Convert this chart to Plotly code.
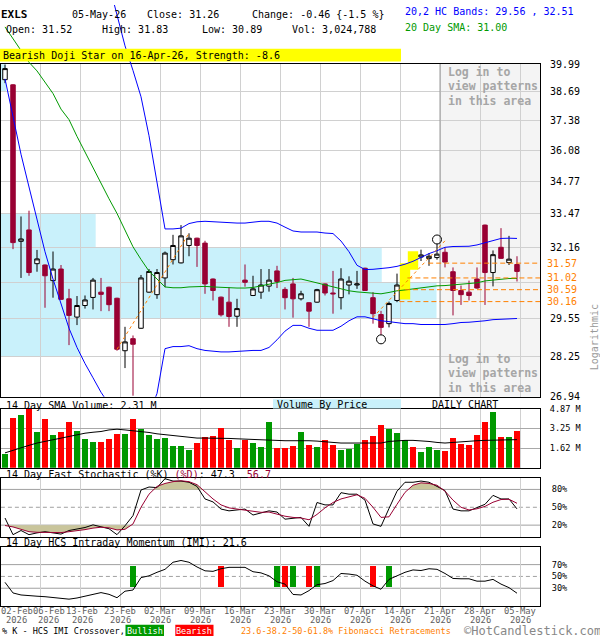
import math
import plotly.graph_objects as go

W, H = 600, 640
FONT = "DejaVu Sans Mono"

# ---------------- data ----------------
days = list(range(65))
label_days = [0, 4, 9, 14, 19, 24, 29, 34, 39, 44, 49, 54, 59, 64]
date_labels = ["02-Feb", "06-Feb", "13-Feb", "23-Feb", "02-Mar", "09-Mar", "16-Mar",
               "23-Mar", "30-Mar", "07-Apr", "14-Apr", "21-Apr", "28-Apr", "05-May"]
label_year = "2026"

open_px = [39.26, 39.02, 32.40, 32.84, 31.55, 31.50, 30.92, 31.35, 30.26, 29.61,
           30.02, 30.31, 30.50, 30.68, 30.28, 28.45, 28.86, 29.22, 30.50, 30.41,
           31.02, 31.70, 31.58, 32.24, 32.52, 32.33, 30.98, 30.32, 30.14, 29.64,
           30.94, 30.38, 30.50, 30.72, 31.28, 30.60, 30.80, 30.26, 30.12, 30.14,
           30.80, 30.47, 30.30, 30.76, 30.76, 31.38, 30.30, 29.70, 29.38, 30.20,
           30.62, 31.55, 31.80, 31.74, 31.78, 31.98, 31.25, 30.56, 30.50, 30.98,
           33.03, 31.22, 32.17, 31.59, 31.52]
high_px = [39.97, 39.05, 33.37, 33.60, 32.07, 31.52, 32.01, 31.50, 30.62, 30.36,
           30.38, 31.02, 31.02, 30.70, 30.30, 29.27, 28.97, 31.13, 31.35, 31.35,
           32.01, 32.65, 33.03, 32.71, 32.54, 32.42, 31.00, 30.34, 30.68, 30.26,
           31.52, 31.10, 31.35, 31.35, 31.47, 30.68, 31.02, 30.55, 30.14, 30.62,
           30.82, 31.28, 31.38, 31.08, 31.28, 31.40, 30.50, 29.83, 30.16, 31.18,
           31.42, 31.87, 32.08, 31.95, 32.30, 32.16, 31.41, 30.74, 30.92, 31.41,
           33.05, 32.05, 32.91, 32.61, 31.83]
low_px = [39.10, 32.10, 31.02, 31.10, 31.25, 29.94, 30.30, 30.22, 28.64, 29.33,
          29.91, 29.88, 29.82, 29.82, 28.45, 27.87, 26.97, 29.20, 30.48, 30.26,
          30.68, 31.52, 31.56, 31.83, 31.43, 30.44, 30.20, 29.63, 29.27, 29.27,
          30.70, 30.36, 30.26, 30.52, 30.65, 29.88, 29.59, 30.20, 29.27, 30.12,
          30.38, 29.73, 29.88, 30.42, 30.62, 30.55, 29.38, 28.99, 29.25, 30.14,
          30.34, 31.43, 31.65, 31.47, 31.70, 31.41, 29.67, 30.04, 30.20, 30.62,
          30.04, 30.71, 31.73, 31.50, 30.89]
close_px = [39.78, 32.35, 32.49, 31.22, 31.73, 31.10, 31.35, 30.24, 29.67, 30.02,
            30.22, 30.94, 30.42, 30.05, 28.50, 28.75, 28.67, 31.02, 31.26, 31.22,
            31.95, 32.24, 32.61, 32.52, 32.24, 30.80, 30.56, 29.69, 29.63, 29.91,
            30.86, 30.62, 30.76, 30.94, 30.89, 30.30, 30.26, 30.44, 29.82, 30.59,
            30.47, 30.44, 30.98, 30.90, 30.80, 30.56, 29.73, 29.25, 30.09, 30.76,
            31.31, 31.50, 31.88, 31.83, 31.91, 31.61, 30.56, 30.41, 30.38, 30.65,
            31.22, 31.89, 31.75, 31.72, 31.26]

sma20 = [41.80, 41.22, 40.64, 40.08, 39.67, 39.14, 38.62, 37.91, 37.44, 36.70,
         36.01, 35.40, 34.72, 34.08, 33.49, 32.84, 32.19, 31.71, 31.27, 30.98,
         30.69, 30.66, 30.66, 30.69, 30.71, 30.71, 30.69, 30.67, 30.66, 30.65,
         30.65, 30.67, 30.73, 30.78, 30.85, 30.93, 30.96, 30.98, 30.91, 30.84,
         30.76, 30.69, 30.62, 30.55, 30.51, 30.48, 30.46, 30.44, 30.49, 30.55,
         30.58, 30.62, 30.67, 30.71, 30.73, 30.74, 30.76, 30.78, 30.80, 30.84,
         30.91, 30.94, 30.98, 31.00, 31.00]
band_upper = [None] * 13 + [
    43.99, 42.42, 40.87, 39.69, 38.47, 36.73, 34.80,
    32.88, 32.88, 32.91, 33.09, 33.16, 33.18, 33.16, 33.14, 33.13, 33.11,
    33.11, 33.14, 33.18, 33.18, 33.11, 32.95, 32.80, 32.76, 32.76, 32.76,
    32.72, 32.70, 32.41, 32.00, 31.49, 31.33, 31.34, 31.36, 31.40, 31.45,
    31.53, 31.64, 31.78, 31.93, 32.04, 32.17, 32.20, 32.20, 32.21, 32.26,
    32.34, 32.41, 32.51, 32.52, 32.51]
band_lower = [39.30, 37.57, 35.93, 34.56, 33.22, 32.00, 30.98, 30.09, 29.22, 28.56,
              28.02, 27.55, 27.08, 26.70, 26.40, 26.20, 26.05, 26.05, 26.40, 27.04,
              28.52, 28.59, 28.59, 28.62, 28.52, 28.46, 28.43, 28.41, 28.41, 28.43,
              28.43, 28.46, 28.46, 28.56, 28.82, 29.12, 29.32, 29.32, 29.22, 29.15,
              29.15, 29.15, 29.29, 29.48, 29.62, 29.62, 29.55, 29.48, 29.45, 29.42,
              29.38, 29.38, 29.35, 29.35, 29.35, 29.35, 29.38, 29.42, 29.43, 29.45,
              29.48, 29.52, 29.53, 29.55, 29.56]

volume_m = [1.14, 4.06, 4.38, 4.82, 2.90, 3.98, 2.68, 2.98, 3.79, 3.06,
            2.35, 2.11, 2.11, 2.35, 2.76, 2.76, 3.98, 3.17, 2.68, 2.35,
            2.44, 1.79, 1.79, 1.46, 2.03, 2.52, 2.65, 3.25, 2.27, 1.62,
            2.30, 2.03, 1.70, 3.73, 1.62, 1.62, 1.79, 2.92, 1.87, 1.70,
            2.27, 1.87, 1.46, 1.54, 1.98, 2.27, 2.60, 3.49, 3.17, 2.84,
            2.25, 1.70, 1.30, 1.70, 1.46, 1.38, 2.44, 1.95, 1.87, 2.68,
            3.73, 4.63, 2.52, 2.52, 3.02]
volume_sma14 = [1.22, 1.43, 1.68, 1.84, 2.03, 2.16, 2.30, 2.41, 2.57, 2.73,
                2.84, 2.92, 2.98, 3.11, 3.17, 3.11, 3.06, 2.98, 2.90, 2.79,
                2.71, 2.62, 2.54, 2.46, 2.44, 2.44, 2.44, 2.46, 2.41, 2.38,
                2.35, 2.33, 2.27, 2.27, 2.25, 2.22, 2.22, 2.25, 2.22, 2.19,
                2.16, 2.08, 2.03, 2.03, 2.03, 2.00, 2.03, 2.03, 2.16, 2.22,
                2.25, 2.25, 2.22, 2.16, 2.08, 2.03, 2.08, 2.14, 2.19, 2.22,
                2.25, 2.27, 2.27, 2.27, 2.31]

stoch_k = [32, 4, 11, 4, 7, 9, 7, 5, 11, 14,
           16, 20.5, 17, 14, 4, 19, 36, 79, 84, 83,
           98, 94, 94, 92, 85, 64, 59, 47, 44, 46,
           47, 37, 41, 44, 42, 30, 31.5, 33, 18, 58,
           54, 54, 74.5, 72, 72, 62, 22, 18, 48, 77,
           92, 92, 94, 92, 85, 78, 47, 44, 44, 50,
           55, 70, 64, 64, 47.3]
stoch_d = [19.4, 17, 13, 9, 8, 8, 7.5, 7.5, 9, 10.5,
           12.5, 15, 16.5, 15.5, 12, 13, 22, 50, 72, 85,
           90, 93, 94.5, 93, 88, 76, 64, 54, 49, 47,
           45.5, 43, 41.5, 42, 38, 35, 33, 32, 29, 38,
           49, 58, 64, 68, 71, 65, 50, 33, 34, 55,
           75, 87, 91, 90, 87, 77, 62, 50, 45.5, 47.5,
           51.5, 58.5, 63, 63.5, 56.7]
imi = [40, 22, 18.6, 17, 16.5, 15.7, 14.5, 13, 11.5, 13.5,
       16.5, 20, 22.6, 19.7, 14, 25, 27, 48, 51, 57,
       62, 74, 77, 74, 66, 59.5, 58.6, 63, 65.4, 65.4,
       65.4, 58, 56, 51, 41, 37, 19.5, 18.6, 26, 36,
       38, 43, 55, 54, 52, 42, 34, 28.3, 45, 51,
       57, 61, 60, 63, 62, 55, 46.6, 46, 46, 42,
       42, 45, 37, 31, 21.6]
bull_cross_days = [16, 34, 36, 39, 48]
bear_cross_days = [27, 35, 38, 46]

price_ticks = [26.94, 28.25, 29.55, 30.86, 32.16, 33.47, 34.77, 36.08, 37.38, 38.69, 39.99]
price_tick_text = ["26.94", "28.25", "29.55", "", "32.16", "33.47", "34.77",
                   "36.08", "37.38", "38.69", "39.99"]
# volume traded inside each price band (between consecutive price ticks), millions
vbp_volume = [0, 9.2, 50.1, 43.8, 10.9, 0, 0, 0, 0, 0.6]

fib_levels = [31.57, 31.02, 30.59, 30.16]
fib_start_day = [52.9, 50.3, 50.0, 49.3]
swing_start_day = [14, 46]
swing_start_px = [28.50, 29.60]
swing_end_day = [23, 55]
swing_end_px = [32.71, 32.42]
pivot_low_days = [47]
pivot_high_days = [54]
pattern_days = [50, 51]
locked_from_day = 54

# ---------------- geometry helpers ----------------
def py(y_px):
    return 1 - y_px / H


def px(x_px):
    return x_px / W


X0, X1 = -0.5125, 66.875
XDOM = [0.0015, 0.9]
GRID_OFFSET = 0.375
grid_x = [d + GRID_OFFSET for d in label_days[1:]]
P_LO, P_HI = 26.935, 39.995
P_TOP = P_HI * math.exp(60 / 855)

CRIMSON = "#990033"
ORANGE = "#ff8000"
GREEN = "#009900"
RED = "#ff0000"
BLUE = "#0000ff"
VBP_BLUE = "#c9f1fb"
KHAKI = "#c9c59b"
GRID = "#d0d0d0"

fig = go.Figure()

# ---------------- main price panel ----------------
# pattern highlight boxes
for d in pattern_days:
    lo = low_px[d] / math.exp(3 / 855)
    hi = high_px[d] * math.exp(4 / 855)
    fig.add_trace(go.Scatter(x=[d - 0.65, d + 0.65, d + 0.65, d - 0.65, d - 0.65],
                             y=[lo, lo, hi, hi, lo], fill="toself", fillcolor="#ffff00",
                             line=dict(width=0), mode="lines", hoverinfo="skip",
                             xaxis="x", yaxis="y"))

# boundary of the locked pattern area
fig.add_trace(go.Scatter(x=[locked_from_day + GRID_OFFSET] * 2, y=[P_LO, P_HI], mode="lines",
                         line=dict(color="#999999", width=1), hoverinfo="skip",
                         xaxis="x", yaxis="y"))

for series, color in ((band_upper, BLUE), (band_lower, BLUE), (sma20, GREEN)):
    fig.add_trace(go.Scatter(x=days, y=series, mode="lines", line=dict(color=color, width=1),
                             hoverinfo="skip", xaxis="x", yaxis="y", connectgaps=False))
    # the same curves continue up into the header strip
    fig.add_trace(go.Scatter(x=days, y=series, mode="lines", line=dict(color=color, width=1),
                             hoverinfo="skip", xaxis="x6", yaxis="y6", connectgaps=False))

fig.add_trace(go.Candlestick(
    x=days, open=open_px, high=high_px, low=low_px, close=close_px,
    increasing=dict(line=dict(color="black", width=1), fillcolor="white"),
    decreasing=dict(line=dict(color=CRIMSON, width=1), fillcolor=CRIMSON),
    whiskerwidth=0, xaxis="x", yaxis="y", hoverinfo="skip"))

# fibonacci retracement levels
for lvl, start in zip(fib_levels, fib_start_day):
    fig.add_trace(go.Scatter(x=[start, X1], y=[lvl, lvl], mode="lines",
                             line=dict(color=ORANGE, width=1, dash="5px,3px"),
                             hoverinfo="skip", xaxis="x", yaxis="y"))
# swing lines
for d0, p0, d1, p1 in zip(swing_start_day, swing_start_px, swing_end_day, swing_end_px):
    fig.add_trace(go.Scatter(x=[d0, d1], y=[p0, p1], mode="lines",
                             line=dict(color=ORANGE, width=1, dash="dot"),
                             hoverinfo="skip", xaxis="x", yaxis="y"))
# pivot markers
piv_x = pivot_low_days + pivot_high_days
piv_y = [low_px[d] / math.exp(4.5 / 855) for d in pivot_low_days] + \
        [high_px[d] * math.exp(4.5 / 855) for d in pivot_high_days]
fig.add_trace(go.Scatter(x=piv_x, y=piv_y, mode="markers", cliponaxis=False,
                         marker=dict(symbol="circle-open", size=9, color="black",
                                     line=dict(width=1, color="black")),
                         hoverinfo="skip", xaxis="x", yaxis="y"))

# anchor trace for the volume-by-price axis
fig.add_trace(go.Scatter(x=[0], y=[30], mode="markers", marker=dict(size=0, opacity=0),
                         hoverinfo="skip", xaxis="x5", yaxis="y"))

# ---------------- volume panel ----------------
vol_colors = [GREEN if c >= o else RED for o, c in zip(open_px, close_px)]
fig.add_trace(go.Bar(x=days, y=volume_m, marker=dict(color=vol_colors, line=dict(width=0)),
                     width=0.72, xaxis="x2", yaxis="y2", hoverinfo="skip"))
fig.add_trace(go.Scatter(x=days, y=volume_sma14, mode="lines", line=dict(color="black", width=1),
                         xaxis="x2", yaxis="y2", hoverinfo="skip"))

# ---------------- stochastic panel ----------------
def clipped_fill(xs, ys, level, above):
    out_x, out_y = [], []
    for i in range(len(xs)):
        if i > 0:
            a, b = ys[i - 1], ys[i]
            if (a - level) * (b - level) < 0:
                t = (level - a) / (b - a)
                out_x.append(xs[i - 1] + t * (xs[i] - xs[i - 1]))
                out_y.append(level)
        out_x.append(xs[i])
        out_y.append(max(ys[i], level) if above else min(ys[i], level))
    return out_x, out_y


for level, above in ((80, True), (20, False)):
    fx, fy = clipped_fill(days, stoch_d, level, above)
    fig.add_trace(go.Scatter(x=fx, y=[level] * len(fx), mode="lines", line=dict(width=0),
                             hoverinfo="skip", xaxis="x3", yaxis="y3"))
    fig.add_trace(go.Scatter(x=fx, y=fy, mode="lines", line=dict(width=0), fill="tonexty",
                             fillcolor=KHAKI, hoverinfo="skip", xaxis="x3", yaxis="y3"))

fig.add_trace(go.Scatter(x=days, y=stoch_k, mode="lines", line=dict(color="black", width=1),
                         xaxis="x3", yaxis="y3", hoverinfo="skip"))
fig.add_trace(go.Scatter(x=days, y=stoch_d, mode="lines", line=dict(color=CRIMSON, width=1),
                         xaxis="x3", yaxis="y3", hoverinfo="skip"))

# ---------------- intraday momentum panel ----------------
fig.add_trace(go.Bar(x=bull_cross_days, y=[36] * len(bull_cross_days), base=32, width=0.74,
                     marker=dict(color=GREEN, line=dict(width=0)), xaxis="x4", yaxis="y4",
                     hoverinfo="skip"))
fig.add_trace(go.Bar(x=bear_cross_days, y=[36] * len(bear_cross_days), base=32, width=0.74,
                     marker=dict(color=RED, line=dict(width=0)), xaxis="x4", yaxis="y4",
                     hoverinfo="skip"))
fig.add_trace(go.Scatter(x=days, y=imi, mode="lines", line=dict(color="black", width=1),
                         xaxis="x4", yaxis="y4", hoverinfo="skip"))

# ---------------- axes ----------------
panel_x = dict(range=[X0, X1], domain=XDOM, tickvals=grid_x, showticklabels=False,
               showgrid=True, gridcolor=GRID, gridwidth=1, zeroline=False,
               showline=True, mirror=True, linecolor="black", linewidth=1, ticks="",
               fixedrange=True)
tick_font = dict(family=FONT, size=8.6, color="black")

layout_axes = dict(
    xaxis=dict(panel_x, anchor="y", rangeslider=dict(visible=False)),
    yaxis=dict(type="log", domain=[py(398), py(60)], range=[math.log10(P_LO), math.log10(P_HI)],
               side="right", tickvals=price_ticks, ticktext=price_tick_text,
               showgrid=True, gridcolor=GRID, zeroline=False, showline=True, mirror=True,
               linecolor="black", linewidth=1, ticks="", ticklabelstandoff=7,
               tickfont=dict(family=FONT, size=10, color="black"), anchor="x"),
    xaxis2=dict(panel_x, anchor="y2"),
    yaxis2=dict(domain=[py(470), py(410)], range=[0, 4.87], side="right",
                tickvals=[1.62, 3.25, 4.87], ticktext=["1.62 M", "3.25 M", "4.87 M"],
                showgrid=True, gridcolor="#a8a8a8", zeroline=False, showline=True, mirror=True,
                linecolor="black", ticks="", ticklabelstandoff=7, tickfont=tick_font,
                anchor="x2"),
    xaxis3=dict(panel_x, anchor="y3"),
    yaxis3=dict(domain=[py(540.5), py(480)], range=[0, 100], side="right",
                tickvals=[20, 50, 80], ticktext=["20%", "50%", "80%"], showgrid=False,
                zeroline=False, showline=True, mirror=True, linecolor="black", ticks="",
                ticklabelstandoff=9, tickfont=tick_font, anchor="x3"),
    xaxis4=dict(panel_x, anchor="y4"),
    yaxis4=dict(domain=[py(610.5), py(550.5)], range=[0, 100], side="right",
                tickvals=[30, 50, 70], ticktext=["30%", "50%", "70%"], showgrid=False,
                zeroline=False, showline=True, mirror=True, linecolor="black", ticks="",
                ticklabelstandoff=9, tickfont=tick_font, anchor="x4"),
    xaxis5=dict(range=[0, 62.0], overlaying="x", anchor="y", visible=False, fixedrange=True),
    xaxis6=dict(range=[X0, X1], domain=XDOM, anchor="y6", visible=False, fixedrange=True),
    yaxis6=dict(type="log", domain=[py(60), 1],
                range=[math.log10(P_HI), math.log10(P_TOP)], anchor="x6", visible=False),
)

# ---------------- shapes ----------------
shapes = []
for i, v in enumerate(vbp_volume):
    if v > 0:
        shapes.append(dict(type="rect", xref="x5", yref="y", x0=0, x1=v,
                           y0=price_ticks[i], y1=price_ticks[i + 1],
                           fillcolor=VBP_BLUE, line=dict(width=0), layer="below"))
shapes.append(dict(type="rect", xref="x", yref="y domain", x0=locked_from_day + GRID_OFFSET,
                   x1=X1, y0=0, y1=1, fillcolor="#f4f4f4", line=dict(width=0), layer="below"))
for pnl, levels in (("3", (20, 50, 80)), ("4", (30, 50, 70))):
    for lv in levels:
        shapes.append(dict(type="line", xref="x%s domain" % pnl, yref="y" + pnl,
                           x0=0, x1=1, y0=lv, y1=lv, layer="below",
                           line=dict(color="#a0a0a0", width=1,
                                     dash="4px,3px" if lv == 50 else "solid")))
# header highlight strip
shapes.append(dict(type="rect", xref="paper", yref="paper", x0=0, x1=px(401),
                   y0=py(57.5), y1=py(44.5), fillcolor="#ffff00", line=dict(width=0)))
# "Volume By Price" tag
shapes.append(dict(type="rect", xref="paper", yref="paper", x0=px(273), x1=px(401),
                   y0=py(410), y1=py(400.5), fillcolor=VBP_BLUE, line=dict(width=0)))
# legend chips
shapes.append(dict(type="rect", xref="paper", yref="paper", x0=px(125.5), x1=px(164),
                   y0=py(641), y1=py(629.5), fillcolor=GREEN, line=dict(width=0)))
shapes.append(dict(type="rect", xref="paper", yref="paper", x0=px(175.3), x1=px(213.5),
                   y0=py(641), y1=py(629.5), fillcolor=RED, line=dict(width=0)))

# ---------------- text ----------------
ann = []


def text(x_px, y_px, s, size=10, color="black", bold=False, anchor="left", **kw):
    if bold:
        s = "<b>%s</b>" % s
    ann.append(dict(x=px(x_px), y=py(y_px), xref="paper", yref="paper", text=s,
                    showarrow=False, xanchor=anchor, yanchor="middle",
                    font=dict(family=FONT, size=size, color=color), **kw))


text(-1, 9.5, "EXLS", size=11, bold=True)
text(70, 9.5, "05-May-26")
text(145, 9.5, "Close: %.2f" % close_px[-1])
text(250, 9.5, "Change: -0.46 {-1.5 %}")
text(403, 7, "20,2 HC Bands: %.2f , %.2f" % (band_lower[-1], band_upper[-1]), color=BLUE)
text(4, 24.5, "Open: %.2f" % open_px[-1])
text(100, 24.5, "High: %.2f" % high_px[-1])
text(200, 24.5, "Low: %.2f" % low_px[-1])
text(290, 24.5, "Vol: 3,024,788")
text(403, 23, "20 Day SMA: %.2f" % sma20[-1], color=GREEN)
text(1, 51.5, "Bearish Doji Star on 16-Apr-26, Strength: -8.6")

login_lines = ["Log in to", "view patterns", "in this area"]
for top in (68, 359.5):
    for i, s in enumerate(login_lines):
        text(446, top + 14.6 * i, s, size=11.5, color="#a6a6a6", bold=True)

text(594.5, 338, "Logarithmic", color="#9a9a9a", anchor="center", textangle=-90)

for lvl in fib_levels:
    ann.append(dict(x=px(545), y=math.log10(lvl), xref="paper", yref="y", text="%.2f" % lvl,
                    showarrow=False, xanchor="left", yanchor="middle",
                    font=dict(family=FONT, size=10, color=ORANGE)))

text(4, 406.5, "14 Day SMA Volume: %.2f M" % volume_sma14[-1])
text(275, 405.5, "Volume By Price")
text(430, 405.5, "DAILY CHART")
text(4, 476.5, "14 Day Fast Stochastic (%%K) <span style='color:%s'>(%%D)</span>: %.1f"
     "\u00a0\u00a0<span style='color:%s'>%.1f</span>" % (CRIMSON, stoch_k[-1], CRIMSON, stoch_d[-1]))
text(4, 546.5, "14 Day HCS Intraday Momentum (IMI): %.1f" % imi[-1])

label_nudge = {0: 8.8, 4: 8.8, 9: 2.0}
for d, lab in zip(label_days, date_labels):
    for s, yy in ((lab, 615.5), (label_year, 625)):
        ann.append(dict(x=d + GRID_OFFSET, y=py(yy), xref="x4", yref="paper", text=s,
                        showarrow=False, xanchor="center", yanchor="middle",
                        xshift=label_nudge.get(d, 0),
                        font=dict(family=FONT, size=8.8, color="#606060")))

text(0, 635.5, "% K - HCS IMI Crossover,", size=8.5)
text(144.7, 635.5, "Bullish", size=8.5, color="white", anchor="center")
text(194.4, 635.5, "Bearish", size=8.5, color="white", anchor="center")
text(239, 635.5, "23.6-38.2-50-61.8% Fibonacci Retracements", size=8.5, color=ORANGE)
text(462, 636, "\u00a9HotCandlestick.com", size=12, color="#888888")

fig.update_layout(
    width=W, height=H, margin=dict(l=0, r=0, t=0, b=0, pad=0),
    paper_bgcolor="white", plot_bgcolor="rgba(0,0,0,0)",
    showlegend=False, hovermode=False, barmode="overlay", bargap=0,
    shapes=shapes, annotations=ann, boxgap=0.2,
    **layout_axes)

fig.write_html("out.html", config={"displayModeBar": False, "staticPlot": True})
